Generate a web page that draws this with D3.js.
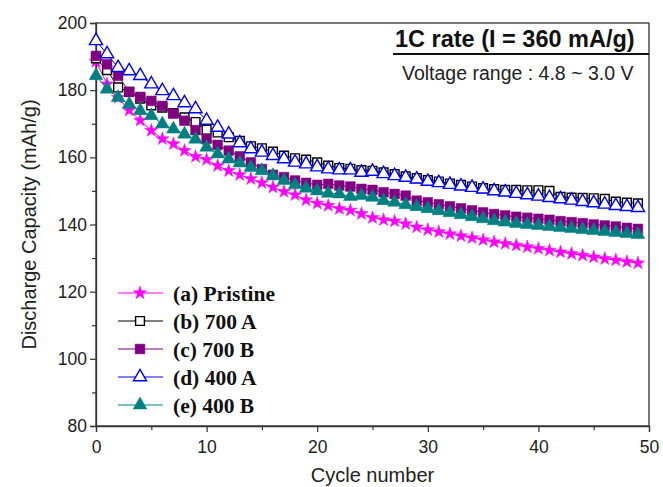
<!DOCTYPE html>
<html>
<head>
<meta charset="utf-8">
<script src="https://cdn.jsdelivr.net/npm/d3@7"></script>
<style>
  body { margin: 0; background: #fff; }
  svg { display: block; }
</style>
</head>
<body>
<svg id="chart"></svg>
<script>
// page size
var W = 663, H = 487;
var pad = { top: 23, right: 14, bottom: 61, left: 96 };

// data: discharge capacity (mAh/g) per cycle
var cycles = d3.range(0, 50);
var pristine = [188.5, 181.8, 177.8, 174.0, 171.0, 168.0, 165.5, 164.0, 162.0, 160.2,
  159.3, 157.5, 156.0, 154.8, 153.6, 152.4, 151.1, 149.8, 148.8, 147.3,
  146.3, 145.6, 144.7, 144.2, 143.2, 142.0, 141.4, 141.0, 140.2, 139.2,
  138.4, 137.8, 137.2, 136.6, 136.0, 135.4, 134.8, 134.3, 133.8, 133.3,
  132.8, 132.3, 131.8, 131.3, 130.8, 130.3, 129.8, 129.4, 128.9, 128.5];
var s700A = [189.5, 186.0, 180.8, 179.5, 177.5, 175.5, 174.8, 173.2, 171.9, 170.5,
  168.2, 167.4, 166.0, 164.9, 163.3, 162.7, 161.7, 160.5, 159.7, 159.3,
  158.5, 157.5, 156.8, 156.6, 156.2, 156.0, 155.5, 155.0, 154.3, 153.8,
  153.2, 152.8, 152.2, 151.8, 151.3, 150.8, 150.5, 150.3, 150.3, 150.2,
  150.2, 150.0, 148.2, 148.0, 147.9, 147.8, 147.6, 146.8, 146.5, 146.3];
var s700B = [190.2, 187.7, 184.3, 179.5, 178.0, 176.8, 175.3, 173.0, 170.9, 168.1,
  165.5, 163.7, 162.0, 160.3, 158.5, 156.5, 154.8, 154.1, 153.1, 152.4,
  151.8, 152.1, 151.6, 151.3, 150.6, 150.3, 149.6, 149.1, 148.6, 147.1,
  146.6, 146.0, 145.4, 144.8, 144.2, 143.6, 143.1, 142.7, 142.3, 142.0,
  141.7, 141.4, 141.0, 140.7, 140.4, 140.0, 139.7, 139.4, 139.0, 138.7];
var s400A = [194.7, 190.8, 186.7, 185.7, 184.3, 181.8, 179.8, 178.3, 176.2, 174.4,
  171.0, 168.9, 166.9, 164.3, 162.5, 161.5, 160.5, 159.5, 158.5, 158.0,
  157.1, 156.5, 156.2, 156.2, 155.5, 155.8, 155.1, 154.5, 154.0, 153.5,
  152.8, 152.4, 151.9, 151.4, 151.0, 150.5, 150.0, 149.6, 149.2, 148.8,
  148.4, 148.0, 147.6, 147.2, 146.8, 146.4, 146.0, 145.6, 145.3, 145.0];
var s400B = [184.3, 180.3, 177.8, 175.8, 173.9, 172.4, 169.9, 168.4, 166.9, 165.4,
  163.0, 161.0, 159.5, 158.3, 157.0, 156.0, 154.5, 153.1, 151.8, 150.8,
  150.0, 149.3, 149.1, 148.3, 148.6, 148.1, 147.1, 146.6, 145.9, 145.3,
  144.7, 144.1, 143.5, 142.9, 142.3, 141.7, 141.1, 140.7, 140.3, 140.0,
  139.7, 139.4, 139.1, 138.8, 138.5, 138.2, 137.9, 137.6, 137.3, 137.0];

var seriesNames = ["(a) Pristine", "(b) 700 A", "(c) 700 B", "(d) 400 A", "(e) 400 B"];
var seriesValues = [pristine, s700A, s700B, s400A, s400B];
var xTicks = [0, 10, 20, 30, 40, 50];
var yTicks = [80, 100, 120, 140, 160, 180, 200];

// styles per series
var styles = [
  { color: "#ff00ff", type: d3.symbolStar, size: 55, fill: true },
  { color: "#000000", type: d3.symbolSquare, size: 78, fill: false },
  { color: "#800080", type: d3.symbolSquare, size: 95, fill: true },
  { color: "#0000ff", type: d3.symbolTriangle, size: 75, fill: false },
  { color: "#008080", type: d3.symbolTriangle, size: 82, fill: true }
];

var sans = "Arial, 'Liberation Sans', sans-serif";

var svg = d3.select("#chart").attr("width", W).attr("height", H);

var x = d3.scaleLinear().domain([0, 50]).range([pad.left, W - pad.right]);
var y = d3.scaleLinear().domain([80, 200]).range([H - pad.bottom, pad.top]);

// frame
svg.append("rect")
  .attr("x", x(0)).attr("y", y(200))
  .attr("width", x(50) - x(0)).attr("height", y(80) - y(200))
  .attr("fill", "none").attr("stroke", "#333").attr("stroke-width", 1.3);

// x axis
var xAxis = svg.append("g").attr("transform", "translate(0," + y(80) + ")");
xAxis.call(d3.axisBottom(x).tickValues(d3.range(0, 51, 5)).tickSize(6).tickFormat(function(d) {
  return xTicks.indexOf(d) >= 0 ? d : "";
}));
xAxis.selectAll(".tick line").attr("y2", function(d) { return d % 10 === 0 ? 6 : 4; });
// y axis
var yAxis = svg.append("g").attr("transform", "translate(" + x(0) + ",0)");
yAxis.call(d3.axisLeft(y).tickValues(d3.range(80, 201, 10)).tickSize(6).tickFormat(function(d) {
  return yTicks.indexOf(d) >= 0 ? d : "";
}));
yAxis.selectAll(".tick line").attr("x2", function(d) { return d % 20 === 0 ? -6 : -4; });
svg.selectAll(".domain").attr("stroke", "#333").attr("stroke-width", 1.3);
svg.selectAll(".tick line").attr("stroke", "#333").attr("stroke-width", 1.2);
svg.selectAll(".tick text")
  .attr("font-family", sans)
  .attr("font-size", "17.5px").attr("fill", "#222");
xAxis.selectAll(".tick text").attr("dy", "1.05em");
yAxis.selectAll(".tick text").attr("dx", "0px");

// axis titles
svg.append("text")
  .attr("x", (x(0) + x(50)) / 2).attr("y", 482)
  .attr("text-anchor", "middle")
  .attr("font-family", sans)
  .attr("font-size", "20px").attr("fill", "#222")
  .text("Cycle number");
svg.append("text")
  .attr("transform", "translate(36," + ((y(80) + y(200)) / 2) + ") rotate(-90)")
  .attr("text-anchor", "middle")
  .attr("font-family", sans)
  .attr("font-size", "20px").attr("fill", "#222")
  .text("Discharge Capacity (mAh/g)");

// series
var line = d3.line().x(function(d) { return x(d[0]); }).y(function(d) { return y(d[1]); });
seriesValues.forEach(function(vals, i) {
  var st = styles[i];
  var pts = vals.map(function(v, k) { return [cycles[k], v]; });
  var g = svg.append("g");
  g.append("path").datum(pts).attr("d", line)
    .attr("fill", "none").attr("stroke", st.color).attr("stroke-width", 1);
  g.selectAll("path.m").data(pts).enter().append("path")
    .attr("class", "m")
    .attr("d", d3.symbol().type(st.type).size(st.size))
    .attr("transform", function(d) { return "translate(" + x(d[0]) + "," + y(d[1]) + ")"; })
    .attr("fill", st.fill ? st.color : "#fff")
    .attr("stroke", st.color)
    .attr("stroke-width", st.fill ? 0.5 : 1.4);
});

// legend
var legend = svg.append("g");
seriesNames.forEach(function(name, i) {
  var st = styles[i];
  var ly = 293 + i * 28;
  legend.append("line")
    .attr("x1", 118).attr("x2", 163).attr("y1", ly).attr("y2", ly)
    .attr("stroke", st.color).attr("stroke-width", 1.2);
  legend.append("path")
    .attr("d", d3.symbol().type(st.type).size(st.size))
    .attr("transform", "translate(140," + ly + ")")
    .attr("fill", st.fill ? st.color : "#fff")
    .attr("stroke", st.color)
    .attr("stroke-width", st.fill ? 0.5 : 1.4);
  legend.append("text")
    .attr("x", 173).attr("y", ly).attr("dy", "0.35em")
    .attr("font-family", "'Times New Roman', 'Liberation Serif', serif")
    .attr("font-weight", "bold").attr("font-size", "21.5px").attr("fill", "#111")
    .text(name);
});

// header box
svg.append("text")
  .attr("x", 395).attr("y", 47)
  .attr("font-family", sans)
  .attr("font-weight", "bold").attr("font-size", "23.5px").attr("fill", "#111")
  .text("1C rate (I = 360 mA/g)");
svg.append("line")
  .attr("x1", 393).attr("x2", x(50)).attr("y1", 54).attr("y2", 54)
  .attr("stroke", "#111").attr("stroke-width", 2);
svg.append("text")
  .attr("x", 402).attr("y", 80)
  .attr("font-family", sans)
  .attr("font-size", "19.5px").attr("fill", "#222")
  .text("Voltage range : 4.8 ~ 3.0 V");
</script>
</body>
</html>
